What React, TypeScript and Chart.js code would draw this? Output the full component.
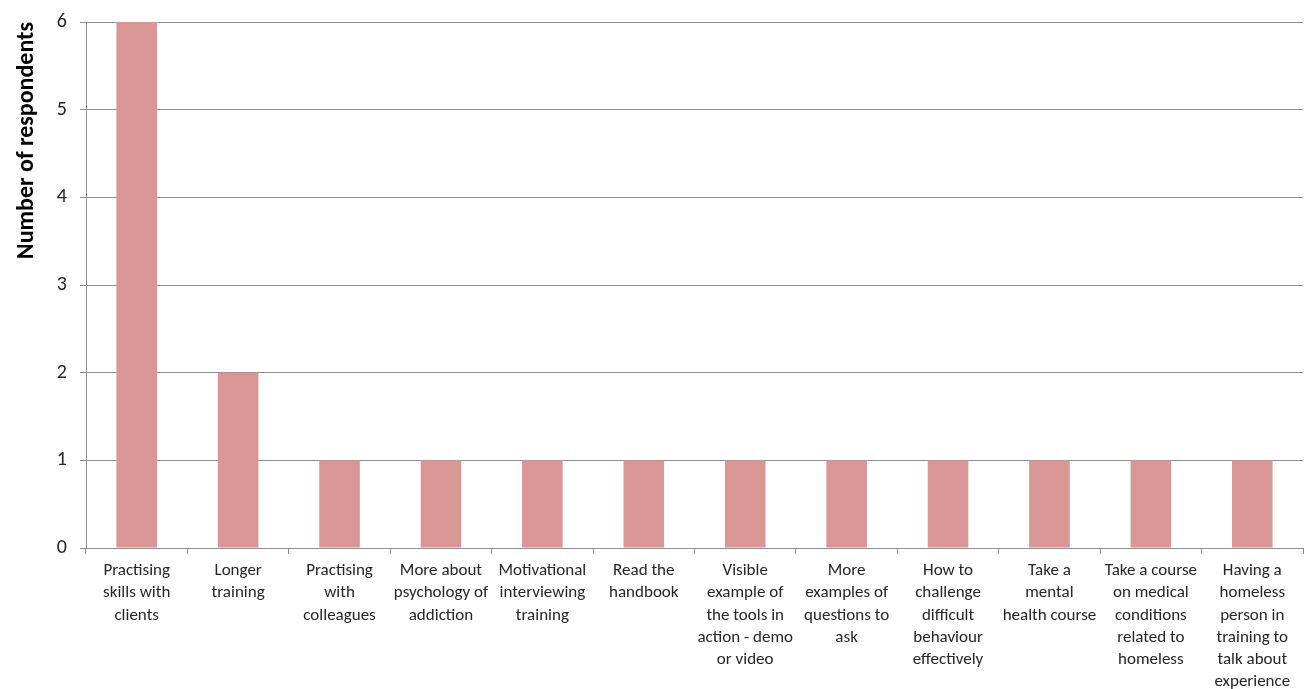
import React, { useEffect, useRef } from "react";
import { Chart, registerables } from "chart.js";

Chart.register(...registerables);

const categories: string[][] = [
  ["Practising", "skills with", "clients"],
  ["Longer", "training"],
  ["Practising", "with", "colleagues"],
  ["More about", "psychology of", "addiction"],
  ["Motivational", "interviewing", "training"],
  ["Read the", "handbook"],
  ["Visible", "example of", "the tools in", "action - demo", "or video"],
  ["More", "examples of", "questions to", "ask"],
  ["How to", "challenge", "difficult", "behaviour", "effectively"],
  ["Take a", "mental", "health course"],
  ["Take a course", "on medical", "conditions", "related to", "homeless"],
  ["Having a", "homeless", "person in", "training to", "talk about", "experience"],
];

const respondents: number[] = [6, 2, 1, 1, 1, 1, 1, 1, 1, 1, 1, 1];

const yTicks: number[] = [0, 1, 2, 3, 4, 5, 6];

const FONT = "Carlito, 'Open Sans', 'Liberation Sans', sans-serif";

export default function App() {
  const ref = useRef<HTMLCanvasElement | null>(null);

  useEffect(() => {
    document.body.style.margin = "0";
    const canvas = ref.current;
    if (!canvas) return;
    const chart = new Chart(canvas, {
      type: "bar",
      data: {
        labels: categories,
        datasets: [
          {
            label: "Number of respondents",
            data: respondents,
            backgroundColor: "#D99694",
            borderWidth: 0,
            barPercentage: 0.4,
            categoryPercentage: 1,
          },
        ],
      },
      options: {
        responsive: false,
        animation: false,
        layout: { padding: { top: 22, right: 8, left: 0, bottom: 0 } },
        plugins: {
          legend: { display: false },
          tooltip: { enabled: false },
        },
        scales: {
          x: {
            offset: true,
            grid: {
              display: true,
              offset: true,
              drawOnChartArea: false,
              drawTicks: true,
              tickLength: 6,
              color: "#8f8f8f",
            },
            border: { display: true, color: "#8f8f8f", width: 1 },
            ticks: {
              autoSkip: false,
              maxRotation: 0,
              minRotation: 0,
              padding: 6,
              color: "#262626",
              font: { family: FONT, size: 17, lineHeight: 1.3 },
            },
            afterFit: (scale: any) => {
              scale.height = 141;
            },
          },
          y: {
            min: 0,
            max: 6,
            afterBuildTicks: (scale: any) => {
              scale.ticks = yTicks.map((v) => ({ value: v }));
            },
            grid: {
              color: "#8f8f8f",
              drawTicks: true,
              tickLength: 6,
            },
            border: { display: true, color: "#8f8f8f", width: 1 },
            ticks: {
              padding: 13,
              color: "#262626",
              font: { family: FONT, size: 20, lineHeight: 0.8 },
            },
            title: {
              display: true,
              align: "end",
              text: "Number of respondents",
              color: "#000000",
              font: { family: FONT, size: 24, weight: "bold", lineHeight: 1.2 },
              padding: { top: 13, bottom: 0 },
            },
            afterFit: (scale: any) => {
              scale.width = 86;
            },
          },
        },
      },
    });
    return () => chart.destroy();
  }, []);

  return (
    <div style={{ position: "absolute", left: 0, top: 0, width: 1311, height: 689, background: "#ffffff" }}>
      <canvas ref={ref} width={1311} height={689} style={{ display: "block" }} />
    </div>
  );
}
